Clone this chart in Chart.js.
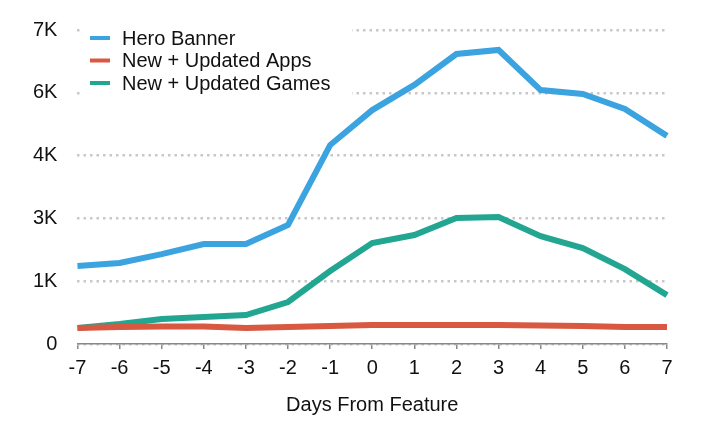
<!DOCTYPE html>
<html>
<head>
<meta charset="utf-8">
<script src="https://cdn.jsdelivr.net/npm/chart.js@4.4.1/dist/chart.umd.min.js"></script>
<style>
  html, body { margin: 0; padding: 0; background: #fff; }
  #wrap { width: 714px; height: 435px; }
</style>
</head>
<body>
<div id="wrap"><canvas id="featureChart"></canvas></div>
<script>
// values
const days = ['-7', '-6', '-5', '-4', '-3', '-2', '-1', '0', '1', '2', '3', '4', '5', '6', '7'];
const heroBanner = [1740, 1805, 2005, 2230, 2230, 2655, 4435, 5215, 5775, 6465, 6555, 5660, 5575, 5240, 4640];
const updatedApps = [357, 379, 390, 390, 357, 379, 401, 424, 424, 424, 424, 412, 401, 379, 379];
const updatedGames = [357, 446, 557, 602, 646, 936, 1627, 2250, 2430, 2810, 2830, 2405, 2140, 1670, 1090];
const yTicks = [0, 1400, 2800, 4200, 5600, 7000];

const fontFamily = '"Liberation Sans", Arial, sans-serif';

// legend drawn inside the plot, top left, on a white box over the grid
const innerLegend = {
    id: 'innerLegend',
    beforeDatasetsDraw(chart) {
        const ctx = chart.ctx;
        ctx.save();
        ctx.fillStyle = '#fff';
        ctx.fillRect(80, 20, 272, 78);
        ctx.font = '20px ' + fontFamily;
        ctx.textBaseline = 'middle';
        chart.data.datasets.forEach(function (ds, i) {
            const y = 38 + i * 22.5;
            ctx.strokeStyle = ds.borderColor;
            ctx.lineWidth = 4;
            ctx.beginPath();
            ctx.moveTo(90, y);
            ctx.lineTo(110, y);
            ctx.stroke();
            ctx.fillStyle = '#111';
            ctx.fillText(ds.label, 122, y + 1);
        });
        ctx.restore();
    }
};

new Chart(document.getElementById('featureChart'), {
    type: 'line',
    data: {
        labels: days,
        datasets: [{
            label: 'Hero Banner',
            data: heroBanner,
            borderColor: 'rgb(59, 163, 224)'
        }, {
            label: 'New + Updated Apps',
            data: updatedApps,
            borderColor: 'rgb(217, 88, 66)'
        }, {
            label: 'New + Updated Games',
            data: updatedGames,
            borderColor: 'rgb(34, 166, 146)'
        }]
    },
    options: {
        responsive: true,
        maintainAspectRatio: false,
        animation: false,
        elements: {
            line: { borderWidth: 6, tension: 0, borderCapStyle: 'butt' },
            point: { radius: 0 }
        },
        layout: {
            padding: { left: 13, right: 47, top: 12, bottom: 18 }
        },
        plugins: {
            legend: { display: false },
            tooltip: { enabled: false }
        },
        scales: {
            x: {
                offset: false,
                grid: {
                    drawOnChartArea: false,
                    drawTicks: true,
                    tickLength: 5,
                    color: '#888',
                    lineWidth: 1.5
                },
                border: { color: '#888', width: 1.5 },
                ticks: {
                    color: '#111',
                    font: { family: fontFamily, size: 20 },
                    padding: 7,
                    maxRotation: 0
                },
                title: {
                    display: true,
                    text: 'Days From Feature',
                    color: '#111',
                    font: { family: fontFamily, size: 20 },
                    padding: { top: 6, bottom: 0 }
                }
            },
            y: {
                min: 0,
                max: 7000,
                afterBuildTicks: function (axis) {
                    axis.ticks = yTicks.map(function (v) { return { value: v }; });
                },
                grid: {
                    color: '#c8c8c8',
                    lineWidth: 2.5,
                    drawTicks: false
                },
                border: { display: false, dash: [2.5, 4] },
                ticks: {
                    color: '#111',
                    font: { family: fontFamily, size: 20, lineHeight: 1 },
                    padding: 20,
                    callback: function (v) {
                        return v === 0 ? '0' : Math.round(v / 1000) + 'K';
                    }
                }
            }
        }
    },
    plugins: [innerLegend]
});
</script>
</body>
</html>
